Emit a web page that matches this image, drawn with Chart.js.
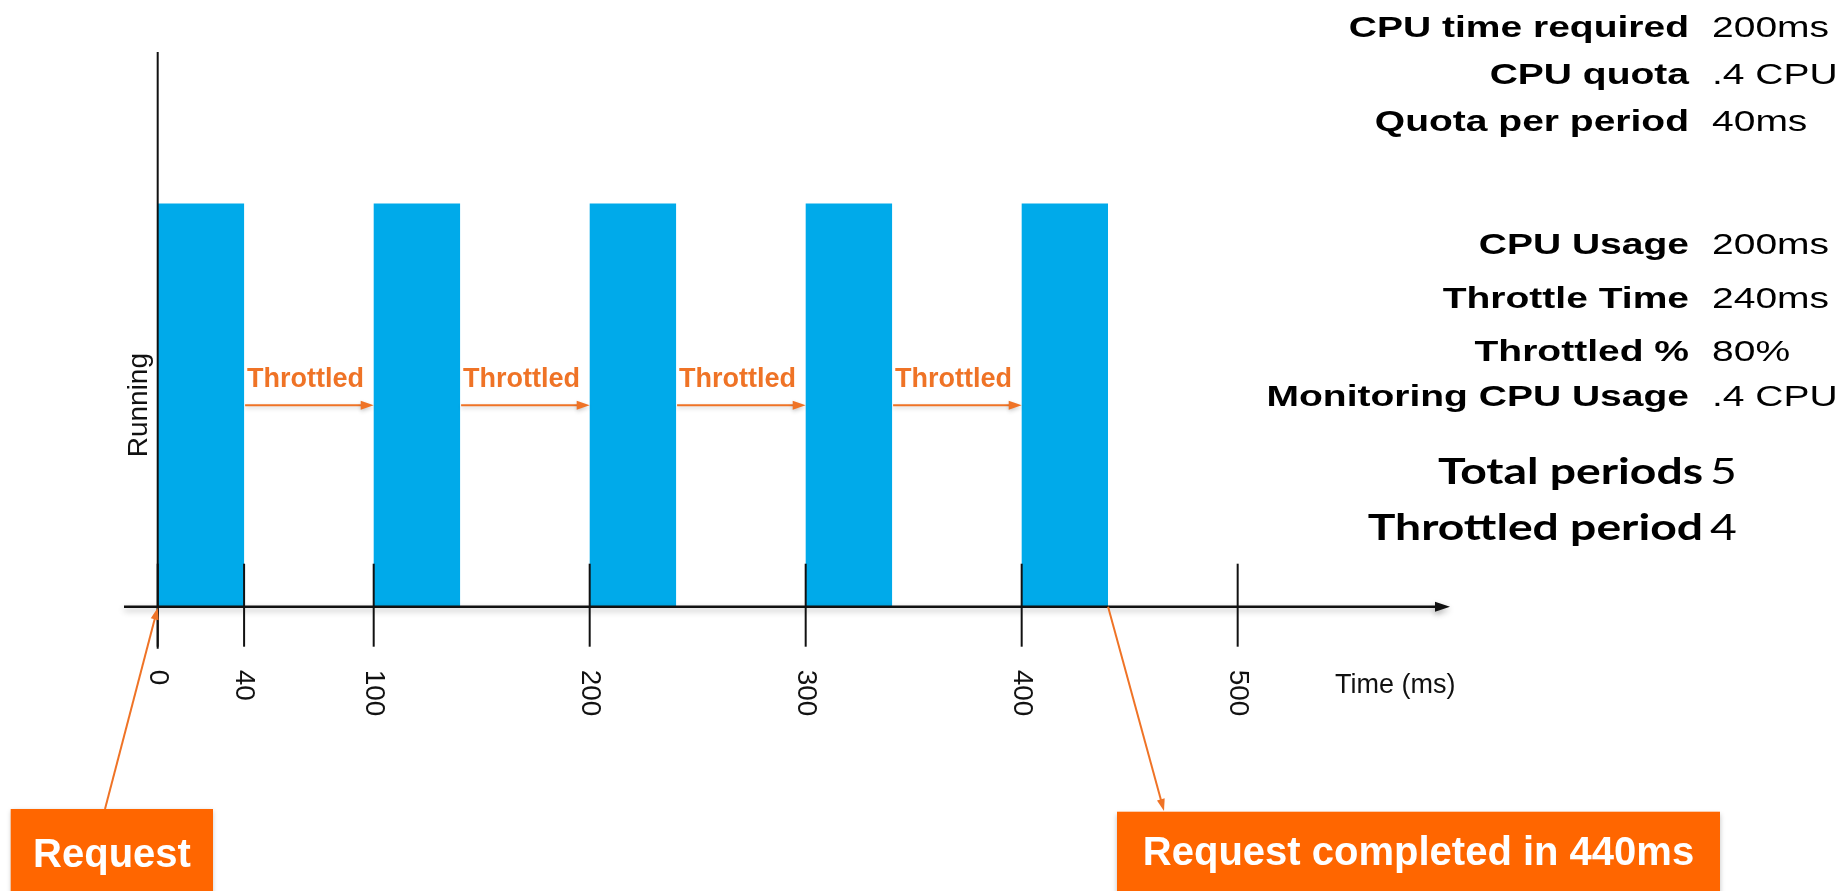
<!DOCTYPE html>
<html>
<head>
<meta charset="utf-8">
<title>CPU throttling</title>
<script src="https://cdn.jsdelivr.net/npm/chart.js@4.4.1/dist/chart.umd.min.js"></script>
<style>
  html, body { margin: 0; padding: 0; background: #fff; }
  #wrap { position: relative; width: 1844px; height: 891px; }
</style>
</head>
<body>
<div id="wrap"><canvas id="chart"></canvas></div>
<script>
// running slices in ms
const runStart = [0, 100, 200, 300, 400];
const runEnd = [40, 140, 240, 340, 440];
const runLevel = 1;
const tickValues = [0, 40, 100, 200, 300, 400, 500];
const throttleLabel = 'Throttled';
const requestLabel = 'Request';
const doneLabel = 'Request completed in 440ms';
const requestAt = 0;
const doneAt = 440;

const statLabels = ['CPU time required', 'CPU quota', 'Quota per period', 'CPU Usage', 'Throttle Time', 'Throttled %', 'Monitoring CPU Usage'];
const statValues = ['200ms', '.4 CPU', '40ms', '200ms', '240ms', '80%', '.4 CPU'];
const periodLabels = ['Total periods', 'Throttled period'];
const periodValues = ['5', '4'];

// layout of the side panel (baselines in px)
const panelRowY = [37, 84, 131, 254, 308, 361, 406];
const periodRowY = [484, 540];

const BLUE = '#00aaea';
const ORANGE = '#ef7326';
const BOX = '#ff6600';
const HELV = '"Liberation Sans", Arial, Helvetica, sans-serif';

// every run slice becomes a filled rectangle under the line
const points = [];
runStart.forEach((s, i) => {
  points.push({x: s, y: 0}, {x: s, y: runLevel}, {x: runEnd[i], y: runLevel}, {x: runEnd[i], y: 0});
});

function arrow(ctx, x1, y1, x2, y2, len, half) {
  const a = Math.atan2(y2 - y1, x2 - x1);
  ctx.beginPath();
  ctx.moveTo(x1, y1);
  ctx.lineTo(x2 - Math.cos(a) * len * 0.7, y2 - Math.sin(a) * len * 0.7);
  ctx.stroke();
  ctx.save();
  ctx.translate(x2, y2);
  ctx.rotate(a);
  ctx.beginPath();
  ctx.moveTo(0, 0);
  ctx.lineTo(-len, -half);
  ctx.lineTo(-len, half);
  ctx.closePath();
  ctx.fill();
  ctx.restore();
}

function stretched(ctx, text, px, py, sx, align) {
  ctx.save();
  ctx.translate(px, py);
  ctx.scale(sx, 1);
  ctx.textAlign = align;
  ctx.fillText(text, 0, 0);
  ctx.restore();
}

const diagram = {
  id: 'diagram',
  afterDatasetsDraw(chart) {
    const {ctx, chartArea: area, scales: {x, y}} = chart;
    const axisY = y.getPixelForValue(0);
    const x0 = x.getPixelForValue(0);
    ctx.save();

    // time axis
    ctx.strokeStyle = '#111';
    ctx.fillStyle = '#111';
    ctx.lineWidth = 2.5;
    ctx.shadowColor = 'rgba(0,0,0,0.3)';
    ctx.shadowBlur = 6;
    ctx.shadowOffsetY = 3;
    arrow(ctx, area.left, axisY, area.right, axisY, 15, 5);
    ctx.shadowColor = 'transparent';

    // running axis
    ctx.lineWidth = 2;
    ctx.beginPath();
    ctx.moveTo(x0, area.top);
    ctx.lineTo(x0, axisY + 42);
    ctx.stroke();

    // ticks + labels turned clockwise
    ctx.font = '28px ' + HELV;
    ctx.textBaseline = 'middle';
    ctx.textAlign = 'left';
    tickValues.forEach(v => {
      const px = x.getPixelForValue(v);
      ctx.beginPath();
      ctx.moveTo(px, axisY - 43);
      ctx.lineTo(px, axisY + 40);
      ctx.stroke();
      ctx.save();
      ctx.translate(px, axisY + 63);
      ctx.rotate(Math.PI / 2);
      ctx.fillText(String(v), 0, 0);
      ctx.restore();
    });

    ctx.textBaseline = 'alphabetic';
    ctx.font = '27px ' + HELV;
    ctx.fillText('Time (ms)', area.right - 115, axisY + 86);

    ctx.save();
    ctx.translate(x0 - 11, y.getPixelForValue(runLevel / 2));
    ctx.rotate(-Math.PI / 2);
    ctx.textAlign = 'center';
    ctx.font = '28px ' + HELV;
    ctx.fillText('Running', 0, 0);
    ctx.restore();

    // throttled gaps
    ctx.strokeStyle = ORANGE;
    ctx.fillStyle = ORANGE;
    ctx.lineWidth = 2;
    ctx.font = 'bold 27px ' + HELV;
    const ay = y.getPixelForValue(runLevel / 2);
    for (let i = 0; i < runStart.length - 1; i++) {
      const xs = x.getPixelForValue(runEnd[i]);
      const xe = x.getPixelForValue(runStart[i + 1]);
      ctx.shadowColor = 'rgba(0,0,0,0.2)';
      ctx.shadowBlur = 4;
      ctx.shadowOffsetY = 2;
      arrow(ctx, xs + 1, ay, xe, ay, 13, 4.5);
      ctx.shadowColor = 'transparent';
      ctx.fillText(throttleLabel, xs + 3, ay - 18.6);
    }

    // callouts
    ctx.shadowColor = 'rgba(0,0,0,0.25)';
    ctx.shadowBlur = 5;
    ctx.fillStyle = BOX;
    ctx.fillRect(10.7, 809, 202.3, 120);
    ctx.fillRect(1117, 811.7, 603, 120);
    ctx.shadowColor = 'transparent';

    ctx.fillStyle = '#fff';
    ctx.font = 'bold 40px ' + HELV;
    ctx.textAlign = 'center';
    ctx.fillText(requestLabel, 112, 866.7);
    ctx.fillText(doneLabel, 1418.5, 864.5);
    ctx.textAlign = 'left';

    ctx.strokeStyle = ORANGE;
    ctx.fillStyle = ORANGE;
    ctx.lineWidth = 2;
    arrow(ctx, 105, 809, x.getPixelForValue(requestAt), axisY + 1, 12, 4);
    arrow(ctx, x.getPixelForValue(doneAt), axisY, 1164, 811, 12, 4);

    // stats panel
    ctx.fillStyle = '#000';
    statLabels.forEach((label, i) => {
      ctx.font = 'bold 30px ' + HELV;
      stretched(ctx, label, 1689, panelRowY[i], 1.3, 'right');
      ctx.font = '30px ' + HELV;
      stretched(ctx, statValues[i], 1712, panelRowY[i], 1.3, 'left');
    });

    ctx.font = 'bold 37px Lato, "Open Sans", sans-serif';
    const sx = 265 / ctx.measureText(periodLabels[0]).width;
    periodLabels.forEach((label, i) => {
      ctx.font = 'bold 37px Lato, "Open Sans", sans-serif';
      stretched(ctx, label, 1703, periodRowY[i], sx, 'right');
      ctx.font = '37px Lato, "Open Sans", sans-serif';
      stretched(ctx, periodValues[i], 1710, periodRowY[i], sx, 'left');
    });

    ctx.restore();
  }
};

new Chart(document.getElementById('chart').getContext('2d'), {
  type: 'line',
  data: {
    datasets: [{
      label: 'Running',
      data: points,
      fill: 'origin',
      backgroundColor: BLUE,
      borderWidth: 0,
      pointRadius: 0,
      tension: 0
    }]
  },
  options: {
    responsive: true,
    maintainAspectRatio: false,
    animation: false,
    layout: { padding: { left: 124, right: 394, top: 52, bottom: 284.3 } },
    plugins: { legend: { display: false }, tooltip: { enabled: false } },
    scales: {
      x: { type: 'linear', min: -15.6, max: 598.3, display: false },
      y: { min: 0, max: 1.376, display: false }
    }
  },
  plugins: [diagram]
});
</script>
</body>
</html>
